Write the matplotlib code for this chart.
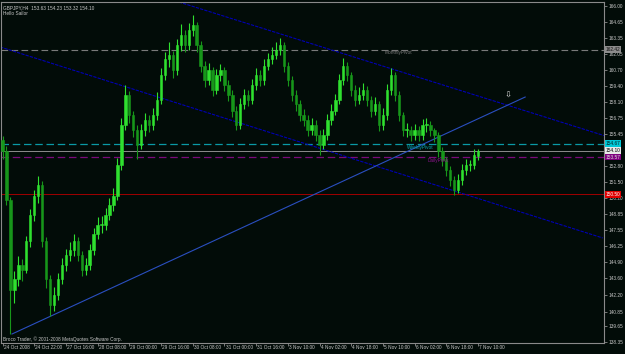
import matplotlib
matplotlib.use('Agg')
import matplotlib.pyplot as plt
from matplotlib import font_manager

# ---------------- data ----------------
opens = [155.0, 154.1, 150.0, 142.6, 143.5, 144.7, 144.3, 146.7, 148.8, 150.4,
         151.3, 146.7, 143.5, 141.4, 142.2, 143.5, 144.7, 145.5, 145.9, 146.7,
         145.5, 144.3, 144.7, 145.9, 147.2, 148.0, 148.0, 148.8, 149.6, 150.4,
         152.9, 156.2, 158.7, 157.0, 155.8, 154.6, 155.8, 156.6, 156.2, 157.0,
         158.3, 160.3, 161.6, 162.0, 160.7, 162.8, 163.6, 162.8, 164.0, 164.4,
         162.8, 161.1, 159.9, 160.7, 159.1, 160.3, 160.7, 159.5, 158.7, 157.4,
         156.2, 157.9, 158.7, 158.3, 159.5, 160.3, 159.9, 161.1, 161.6, 162.0,
         162.4, 162.8, 161.1, 159.9, 158.7, 157.9, 157.0, 156.6, 155.8, 156.2,
         155.4, 154.6, 155.4, 156.6, 157.4, 158.3, 159.9, 161.1, 160.3, 159.1,
         158.3, 158.7, 159.1, 158.3, 157.4, 157.9, 156.2, 157.0, 159.1, 160.3,
         158.7, 157.0, 155.8, 155.8, 155.4, 155.8, 155.4, 156.2, 156.2, 155.8,
         155.4, 154.1, 153.3, 152.5, 151.7, 150.9, 151.7, 152.5, 152.9, 152.9,
         153.63]
closes = [154.1, 150.0, 142.6, 143.5, 144.7, 144.3, 146.7, 148.8, 150.4, 151.3,
          146.7, 143.5, 141.4, 142.2, 143.5, 144.7, 145.5, 145.9, 146.7, 145.5,
          144.3, 144.7, 145.9, 147.2, 148.0, 148.0, 148.8, 149.6, 150.4, 152.9,
          156.2, 158.7, 157.0, 155.8, 154.6, 155.8, 156.6, 156.2, 157.0, 158.3,
          160.3, 161.6, 162.0, 160.7, 162.8, 163.6, 162.8, 164.0, 164.4, 162.8,
          161.1, 159.9, 160.7, 159.1, 160.3, 160.7, 159.5, 158.7, 157.4, 156.2,
          157.9, 158.7, 158.3, 159.5, 160.3, 159.9, 161.1, 161.6, 162.0, 162.4,
          162.8, 161.1, 159.9, 158.7, 157.9, 157.0, 156.6, 155.8, 156.2, 155.4,
          154.6, 155.4, 156.6, 157.4, 158.3, 159.9, 161.1, 160.3, 159.1, 158.3,
          158.7, 159.1, 158.3, 157.4, 157.9, 156.2, 157.0, 159.1, 160.3, 158.7,
          157.0, 155.8, 155.8, 155.4, 155.8, 155.4, 156.2, 156.2, 155.8, 155.4,
          154.1, 153.3, 152.5, 151.7, 150.9, 151.7, 152.5, 152.9, 152.9, 153.7,
          154.10]
highs = [155.3, 154.5, 150.3, 144.2, 145.4, 145.2, 147.1, 149.3, 150.9, 152.0,
         151.6, 147.0, 143.9, 142.9, 144.0, 145.3, 146.0, 146.6, 147.2, 147.0,
         145.8, 145.3, 146.4, 147.7, 148.6, 148.7, 149.4, 150.2, 151.0, 153.5,
         156.8, 159.5, 159.0, 157.4, 156.2, 156.3, 157.2, 157.0, 157.6, 158.9,
         160.9, 162.2, 163.0, 162.3, 163.3, 164.5, 164.0, 164.6, 165.3, 164.7,
         163.1, 161.5, 161.3, 161.0, 160.8, 161.2, 161.0, 159.9, 159.1, 157.8,
         158.4, 159.2, 159.1, 160.0, 160.9, 160.7, 161.6, 162.1, 162.6, 163.0,
         163.4, 163.0, 161.4, 160.2, 159.1, 158.3, 157.5, 157.0, 156.8, 156.6,
         155.8, 155.9, 157.1, 157.9, 158.8, 160.4, 161.7, 161.4, 160.6, 159.5,
         159.3, 159.7, 159.4, 158.6, 158.5, 158.2, 157.6, 159.6, 160.9, 160.6,
         159.0, 157.3, 156.4, 156.1, 156.3, 156.1, 156.7, 156.8, 156.5, 156.0,
         155.6, 154.4, 153.6, 152.8, 152.0, 152.2, 153.0, 153.4, 153.3, 154.2,
         154.23]
lows = [153.4, 149.6, 139.0, 141.6, 143.0, 143.4, 144.0, 146.2, 148.3, 149.8,
        146.2, 142.8, 140.5, 140.9, 141.8, 143.1, 144.2, 145.0, 145.4, 145.0,
        143.8, 143.9, 144.3, 145.5, 146.8, 147.3, 147.6, 148.4, 149.1, 150.0,
        152.5, 155.8, 156.4, 155.2, 153.4, 154.2, 155.3, 155.6, 155.8, 156.6,
        157.9, 159.9, 161.0, 160.1, 160.3, 162.3, 162.2, 162.4, 163.5, 162.2,
        160.6, 159.3, 159.5, 158.6, 158.8, 159.8, 159.0, 158.2, 156.9, 155.8,
        155.9, 157.5, 157.8, 157.9, 159.1, 159.4, 159.5, 160.7, 161.2, 161.6,
        162.0, 160.6, 159.4, 158.2, 157.4, 156.5, 156.1, 155.3, 155.4, 154.9,
        153.7, 154.2, 155.0, 156.2, 157.0, 157.9, 159.5, 159.8, 158.6, 157.8,
        157.9, 158.3, 157.8, 156.9, 157.0, 155.7, 155.8, 156.6, 158.7, 158.2,
        156.5, 155.3, 155.2, 154.9, 155.0, 154.9, 155.0, 155.6, 155.3, 154.8,
        153.6, 152.8, 152.0, 151.2, 150.45, 150.6, 151.3, 152.1, 152.4, 152.6,
        153.32]

x_tick_bars = [0, 8, 16, 24, 32, 40, 48, 56, 64, 72, 80, 88, 96, 104, 112, 120]
x_tick_labels = ["24 Oct 2008", "24 Oct 22:00", "27 Oct 16:00", "28 Oct 08:00",
                 "29 Oct 00:00", "29 Oct 16:00", "30 Oct 08:00", "31 Oct 00:00",
                 "31 Oct 16:00", "3 Nov 10:00", "4 Nov 02:00", "4 Nov 18:00",
                 "5 Nov 10:00", "6 Nov 02:00", "6 Nov 18:00", "7 Nov 10:00"]
# 154.10 label is hidden behind the bid-price box in the reference
y_tick_values = [166.00, 164.65, 163.35, 162.05, 160.70, 159.40, 158.10, 156.75,
                 155.45, 152.80, 151.50, 150.20, 148.85, 147.55, 146.25,
                 144.90, 143.60, 142.20, 140.85, 139.65, 138.35]

monthly_pivot = 162.42
weekly_pivot = 154.67
bid_price = 154.10
daily_pivot = 153.57
red_level = 150.50

# trend lines (bar index, price)
upper_channel = ([44.5, 151.8], [166.33, 155.34])
lower_channel = ([-0.6, 151.5], [162.63, 146.91])
rising_line = ([2.4, 131.9], [139.01, 158.51])
arrow_point = (127.6, 158.7)

title_text = "GBPJPY,H4  153.63 154.23 153.32 154.10"
subtitle_text = "Hello Sailor"
footer_text = "Broco Trader, \u00a9 2001-2008 MetaQuotes Software Corp."

# ---------------- style ----------------
names = {f.name for f in font_manager.fontManager.ttflist}
small_font = ['Liberation Sans Narrow', 'DejaVu Sans'] if 'Liberation Sans Narrow' in names else ['Liberation Sans', 'DejaVu Sans']
fs = 4.0 if 'Liberation Sans Narrow' in names else 3.4

BG = '#020c08'
FG = '#c8c8c8'
FRAME = '#8a8a8a'
UP = '#2fe02f'
DOWN = '#17961a'

W, H = 625, 354
fig = plt.figure(figsize=(W / 100, H / 100), dpi=100, facecolor=BG)
ax = fig.add_axes([1 / W, (H - 343) / H, 603 / W, 341 / H], facecolor=BG)

spacing = 3.9625  # px per bar
x0 = 2.5
ax.set_xlim((1 - x0) / spacing, (604 - x0) / spacing)
ax.set_ylim(138.27, 166.33)

for s in ax.spines.values():
    s.set_color(FRAME)
    s.set_linewidth(0.8)

# horizontal level lines
ax.axhline(monthly_pivot, color='#7a7a7a', lw=0.8, ls=(0, (6, 3)), zorder=1)
ax.axhline(weekly_pivot, color='#0a9aa6', lw=0.9, ls=(0, (6, 3)), zorder=1)
ax.axhline(bid_price, color='#8c8c8c', lw=0.7, zorder=1)
ax.axhline(daily_pivot, color='#7a0a7a', lw=0.9, ls=(0, (6, 3)), zorder=1)
ax.axhline(red_level, color='#a00000', lw=0.7, zorder=1)

# trend lines
ax.plot(*upper_channel, color='#0000b4', lw=0.8, ls=(0, (3, 1)), zorder=2)
ax.plot(*lower_channel, color='#0000b4', lw=0.8, ls=(0, (3, 1)), zorder=2)
ax.plot(*rising_line, color='#2a4fc0', lw=0.8, zorder=2)

# candles
idx = list(range(len(closes)))
for i, o, h, l, c in zip(idx, opens, highs, lows, closes):
    col = UP if c >= o else DOWN
    ax.vlines(i, l, h, color=col, lw=0.8, zorder=3)
    lo, hi = min(o, c), max(o, c)
    ax.bar(i, max(hi - lo, 0.06), bottom=lo, width=0.6, color=col,
           edgecolor=col, lw=0.4, zorder=4)

# level captions
ax.text(96.5, monthly_pivot - 0.05, 'MonthlyPivot', color='#7a7a7a', fontsize=fs,
        family=small_font, va='top', ha='left', zorder=5)
ax.text(102, weekly_pivot - 0.1, 'WeeklyPivot', color='#0aa6b0', fontsize=fs,
        family=small_font, va='top', ha='left', zorder=5)
ax.text(107.2, daily_pivot - 0.05, 'DailyPivot', color='#8a148a', fontsize=fs,
        family=small_font, va='top', ha='left', zorder=5)

# arrow
ax.text(*arrow_point, '\u21e9', color='#e0e0e0', fontsize=6, ha='center',
        va='center', family=['DejaVu Sans'], zorder=6)

# y axis on the right
ax.yaxis.tick_right()
ax.set_yticks(y_tick_values)
ax.set_yticklabels([f'{v:.2f}' for v in y_tick_values])
ax.tick_params(axis='y', colors=FRAME, length=2.2, width=0.6, pad=1.0,
               labelsize=fs, labelcolor=FG)
for lab in ax.get_yticklabels():
    lab.set_family(small_font)

# x axis ticks and left-aligned labels
ax.set_xticks(x_tick_bars)
ax.set_xticklabels([''] * len(x_tick_bars))
ax.tick_params(axis='x', colors=FRAME, length=2.2, width=0.6)
for b, t in zip(x_tick_bars, x_tick_labels):
    ax.annotate(t, xy=(b, 0), xycoords=('data', 'axes fraction'),
                xytext=(0.8, -1.2), textcoords='offset points', ha='left',
                va='top', color=FG, fontsize=fs, family=small_font,
                annotation_clip=False)

# price boxes on the right
boxes = [(monthly_pivot, '#8c8c8c', '#101010'),
         (weekly_pivot, '#00c8d8', '#002020'),
         (bid_price, '#e8e8e8', '#000000'),
         (daily_pivot, '#800080', '#e0e0e0'),
         (red_level, '#e00000', '#ffffff')]
for val, fc, tc in boxes:
    ax.annotate(f'{val:.2f}', xy=(1, val), xycoords=('axes fraction', 'data'),
                xytext=(1.2, 0), textcoords='offset points', ha='left',
                va='center', color=tc, fontsize=fs, family=small_font,
                bbox=dict(boxstyle='square,pad=0.15', fc=fc, ec='none'),
                annotation_clip=False, zorder=10)

# header / footer texts
ax.text(2 / 603, 1 - 3 / 341, title_text, transform=ax.transAxes, color=FG,
        fontsize=fs, family=small_font, ha='left', va='top')
ax.text(2 / 603, 1 - 9 / 341, subtitle_text, transform=ax.transAxes, color=FG,
        fontsize=fs, family=small_font, ha='left', va='top')
ax.text(2 / 603, 1.5 / 341, footer_text, transform=ax.transAxes, color=FG,
        fontsize=fs, family=small_font, ha='left', va='bottom')

fig.savefig('out.png', dpi=100, facecolor=BG)
